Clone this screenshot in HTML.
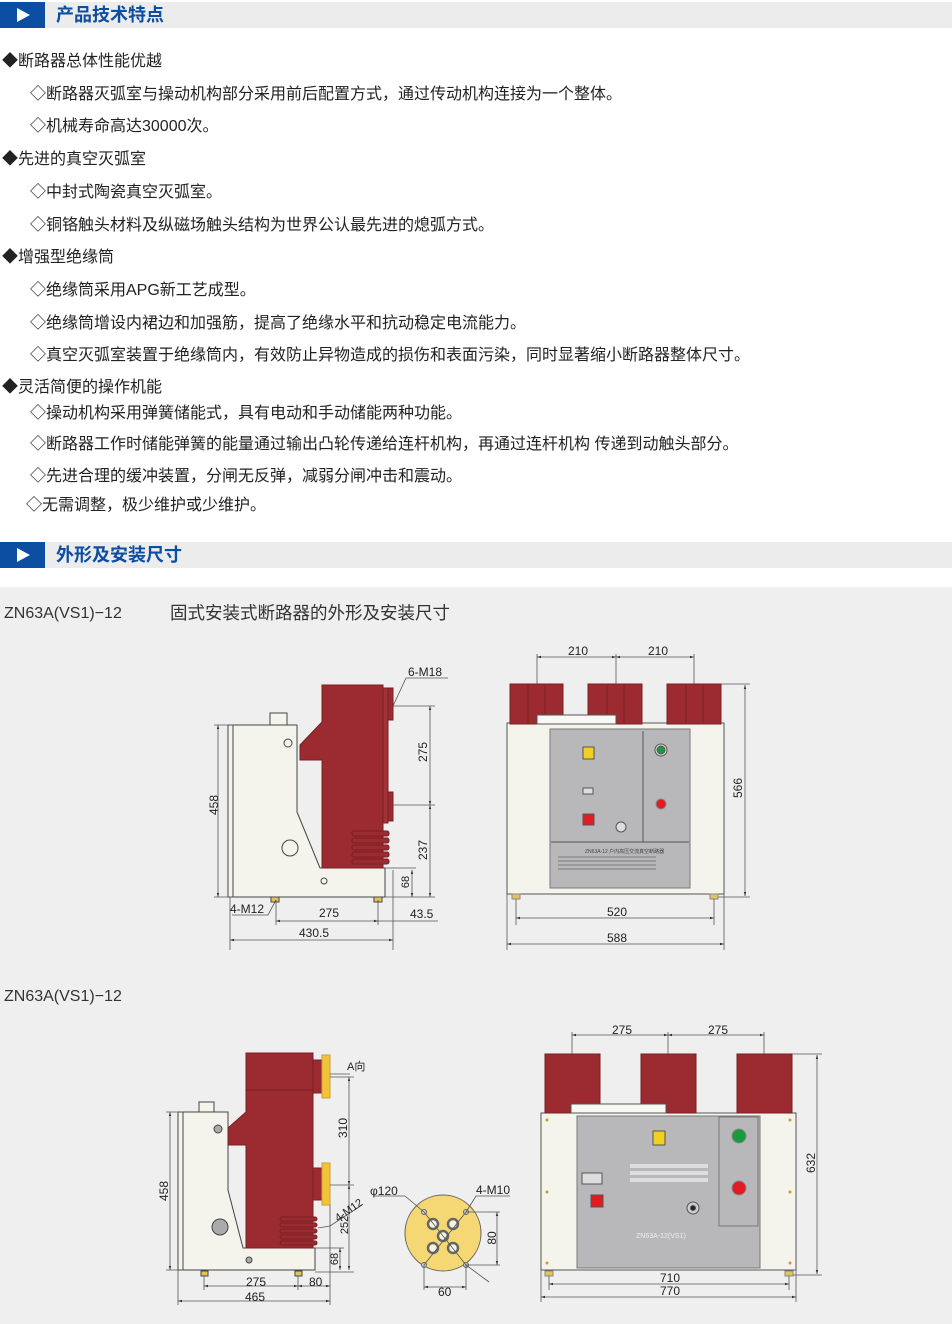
<!DOCTYPE html>
<html><head><meta charset="utf-8">
<style>
html,body{margin:0;padding:0}
body{width:952px;height:1324px;position:relative;background:#fff;font-family:"Liberation Sans","Noto Sans CJK SC",sans-serif;color:#222;overflow:hidden}
.t{position:absolute;font-size:16px;white-space:nowrap;line-height:20px}
.hd{position:absolute;left:0;width:952px;height:26px;background:#ececec}
.hd .b{position:absolute;left:0;top:0;width:45px;height:26px;background:#0c4ea2}
.hd .b:after{content:"";position:absolute;left:17px;top:6px;border-left:13px solid #fff;border-top:7px solid transparent;border-bottom:7px solid transparent}
.hd .tt{position:absolute;left:56px;top:2px;font-size:18px;color:#0c4ea2;font-weight:bold;line-height:22px}
#grey{position:absolute;left:0;top:587px;width:952px;height:737px;background:#efefef}
svg{position:absolute;left:0;top:0}
</style></head><body>
<div class="hd" style="top:2px"><div class="b"></div><div class="tt">产品技术特点</div></div>
<div class="t" style="left:2px;top:52px">◆断路器总体性能优越</div>
<div class="t" style="left:30px;top:85px">◇断路器灭弧室与操动机构部分采用前后配置方式，通过传动机构连接为一个整体。</div>
<div class="t" style="left:30px;top:117px">◇机械寿命高达30000次。</div>
<div class="t" style="left:2px;top:150px">◆先进的真空灭弧室</div>
<div class="t" style="left:30px;top:183px">◇中封式陶瓷真空灭弧室。</div>
<div class="t" style="left:30px;top:216px">◇铜铬触头材料及纵磁场触头结构为世界公认最先进的熄弧方式。</div>
<div class="t" style="left:2px;top:248px">◆增强型绝缘筒</div>
<div class="t" style="left:30px;top:281px">◇绝缘筒采用APG新工艺成型。</div>
<div class="t" style="left:30px;top:314px">◇绝缘筒增设内裙边和加强筋，提高了绝缘水平和抗动稳定电流能力。</div>
<div class="t" style="left:30px;top:346px">◇真空灭弧室装置于绝缘筒内，有效防止异物造成的损伤和表面污染，同时显著缩小断路器整体尺寸。</div>
<div class="t" style="left:2px;top:378px">◆灵活简便的操作机能</div>
<div class="t" style="left:30px;top:404px">◇操动机构采用弹簧储能式，具有电动和手动储能两种功能。</div>
<div class="t" style="left:30px;top:435px">◇断路器工作时储能弹簧的能量通过输出凸轮传递给连杆机构，再通过连杆机构 传递到动触头部分。</div>
<div class="t" style="left:30px;top:467px">◇先进合理的缓冲装置，分闸无反弹，减弱分闸冲击和震动。</div>
<div class="t" style="left:26px;top:496px">◇无需调整，极少维护或少维护。</div>
<div class="hd" style="top:542px"><div class="b"></div><div class="tt">外形及安装尺寸</div></div>
<div id="grey"></div>
<div class="t" style="left:4px;top:604px;font-size:16px;color:#333">ZN63A(VS1)−12</div>
<div class="t" style="left:170px;top:603px;font-size:17.5px;color:#333">固式安装式断路器的外形及安装尺寸</div>
<div class="t" style="left:4px;top:987px;font-size:16px;color:#333">ZN63A(VS1)−12</div>

<svg width="952" height="1324" viewBox="0 0 952 1324" font-family="Liberation Sans, sans-serif" font-size="13" fill="#222">
<defs><marker id="a" viewBox="0 0 10 10" refX="10" refY="5" markerWidth="8" markerHeight="5" orient="auto-start-reverse"><path d="M0,2 L10,5 L0,8z" fill="#333"/></marker></defs>
<g stroke="#444" stroke-width="1">
<rect x="228" y="725" width="5" height="172" fill="#f4f4ec"/>
<rect x="270" y="713" width="17" height="12" fill="#f4f4ec"/>
<path d="M233,725 L297,725 L297,812 L320,868 L385,868 L385,897 L233,897Z" fill="#f4f4ec"/>
<path d="M322,685 L383,685 L383,868 L322,868 L322,760 L300,760 L300,745 L322,722Z" fill="#9b2b30" stroke="#7a1f24"/>
<rect x="383" y="688" width="5" height="135" fill="#a33237" stroke="#7a1f24"/>
<rect x="388" y="688" width="5" height="32" fill="#9b2b30" stroke="#7a1f24"/>
<rect x="388" y="792" width="5" height="29" fill="#9b2b30" stroke="#7a1f24"/>
<g stroke="#7a1f24" fill="#9b2b30"><rect x="352" y="831" width="37" height="5" rx="2"/><rect x="352" y="838" width="37" height="5" rx="2"/><rect x="352" y="845" width="37" height="5" rx="2"/><rect x="352" y="852" width="37" height="5" rx="2"/><rect x="352" y="859" width="37" height="5" rx="2"/></g>
<circle cx="288" cy="743" r="4" fill="none"/><circle cx="290" cy="848" r="8" fill="none"/><circle cx="324" cy="881" r="3" fill="none"/>
<rect x="271" y="897" width="8" height="5" fill="#e3c35a"/><rect x="374" y="897" width="8" height="5" fill="#e3c35a"/>
</g>
<g stroke="#555" stroke-width="0.8" fill="none">
<line x1="218" y1="725" x2="218" y2="897" marker-start="url(#a)" marker-end="url(#a)"/>
<line x1="214" y1="725" x2="233" y2="725"/><line x1="214" y1="897" x2="233" y2="897"/>
<line x1="430" y1="706" x2="430" y2="805" marker-start="url(#a)" marker-end="url(#a)"/>
<line x1="430" y1="805" x2="430" y2="897" marker-start="url(#a)" marker-end="url(#a)"/>
<line x1="393" y1="706" x2="435" y2="706"/><line x1="393" y1="805" x2="435" y2="805"/><line x1="385" y1="897" x2="435" y2="897"/>
<line x1="412" y1="870" x2="412" y2="897" marker-start="url(#a)" marker-end="url(#a)"/><line x1="385" y1="868" x2="416" y2="868"/>
<path d="M393,706 L406,678 L448,678"/>
<path d="M276,900 L268,915 L232,915"/>
<line x1="276" y1="900" x2="276" y2="925"/><line x1="378" y1="900" x2="378" y2="925"/><line x1="393" y1="870" x2="393" y2="950"/><line x1="230" y1="897" x2="230" y2="950"/>
<line x1="276" y1="921" x2="378" y2="921" marker-start="url(#a)" marker-end="url(#a)"/>
<line x1="378" y1="921" x2="438" y2="921"/>
<line x1="230" y1="940" x2="393" y2="940" marker-start="url(#a)" marker-end="url(#a)"/>
</g>
<text x="408" y="676" font-size="12">6-M18</text>
<text x="230" y="913" font-size="12">4-M12</text>
<text x="319" y="917" font-size="12">275</text>
<text x="410" y="918" font-size="12">43.5</text>
<text x="299" y="937" font-size="12">430.5</text>
<text transform="translate(218,805) rotate(-90)" text-anchor="middle" font-size="12">458</text>
<text transform="translate(427,752) rotate(-90)" text-anchor="middle" font-size="12">275</text>
<text transform="translate(427,850) rotate(-90)" text-anchor="middle" font-size="12">237</text>
<text transform="translate(409,882) rotate(-90)" text-anchor="middle" font-size="11">68</text>

<g stroke="#555" stroke-width="1">
<rect x="507" y="723" width="217" height="171" fill="#f4f4ec"/>
<g fill="#9b2b30" stroke="#7a1f24"><rect x="510" y="684" width="53" height="40"/><rect x="588" y="684" width="54" height="40"/><rect x="667" y="684" width="54" height="40"/></g>
<g stroke="#7a1f24"><line x1="528" y1="685" x2="528" y2="723"/><line x1="545" y1="685" x2="545" y2="723"/><line x1="607" y1="685" x2="607" y2="723"/><line x1="624" y1="685" x2="624" y2="723"/><line x1="686" y1="685" x2="686" y2="723"/><line x1="703" y1="685" x2="703" y2="723"/></g>
<rect x="537" y="715" width="79" height="9" fill="#f8f8f4"/>
<rect x="550" y="729" width="140" height="159" fill="#b8b8ba" stroke="#777"/>
<line x1="643" y1="731" x2="643" y2="842"/><line x1="551" y1="842" x2="689" y2="842"/>
<rect x="583" y="747" width="11" height="12" fill="#f0d020"/>
<rect x="583" y="788" width="10" height="6" fill="#ddd"/>
<rect x="583" y="814" width="11" height="11" fill="#e21b22"/>
<circle cx="621" cy="827" r="5" fill="#ddd"/><circle cx="661" cy="750" r="6" fill="#ddd"/><circle cx="661" cy="750" r="4" fill="#1a9a3a"/>
<circle cx="661" cy="804" r="5" fill="#e21b22" stroke="#888"/>
<path d="M558,857 H656 M558,861 H656 M558,865 H656 M558,869 H656" stroke="#666" stroke-width="0.7"/>
</g>
<rect x="512" y="894" width="8" height="5" fill="#e3c35a" stroke="#888"/><rect x="710" y="894" width="8" height="5" fill="#e3c35a" stroke="#888"/>
<text x="585" y="853" font-size="5" fill="#444">ZN63A-12 户内高压交流真空断路器</text>
<g stroke="#555" stroke-width="0.8" fill="none">
<line x1="537" y1="657" x2="616" y2="657" marker-start="url(#a)" marker-end="url(#a)"/>
<line x1="616" y1="657" x2="694" y2="657" marker-start="url(#a)" marker-end="url(#a)"/>
<line x1="537" y1="654" x2="537" y2="684"/><line x1="616" y1="654" x2="616" y2="684"/><line x1="694" y1="654" x2="694" y2="684"/>
<line x1="745" y1="685" x2="745" y2="896" marker-start="url(#a)" marker-end="url(#a)"/>
<line x1="721" y1="684" x2="750" y2="684"/><line x1="718" y1="897" x2="750" y2="897"/>
<line x1="516" y1="899" x2="516" y2="925"/><line x1="714" y1="899" x2="714" y2="925"/>
<line x1="516" y1="918" x2="714" y2="918" marker-start="url(#a)" marker-end="url(#a)"/>
<line x1="507" y1="894" x2="507" y2="950"/><line x1="724" y1="894" x2="724" y2="950"/>
<line x1="507" y1="944" x2="724" y2="944" marker-start="url(#a)" marker-end="url(#a)"/>
</g>
<text x="568" y="655" font-size="12">210</text><text x="648" y="655" font-size="12">210</text>
<text x="607" y="916" font-size="12">520</text><text x="607" y="942" font-size="12">588</text>
<text transform="translate(742,788) rotate(-90)" text-anchor="middle" font-size="12">566</text>

<g stroke="#444" stroke-width="1">
<rect x="178" y="1112" width="5" height="158" fill="#f4f4ec"/>
<rect x="199" y="1102" width="15" height="10" fill="#f4f4ec"/>
<path d="M183,1112 L228,1112 L228,1190 L243,1248 L315,1248 L315,1270 L183,1270Z" fill="#f4f4ec"/>
<path d="M246,1053 L313,1053 L313,1248 L246,1248 L246,1145 L228,1145 L228,1128 L246,1112Z" fill="#9b2b30" stroke="#7a1f24"/>
<line x1="246" y1="1090" x2="313" y2="1090" stroke="#7a1f24"/>
<rect x="313" y="1060" width="9" height="33" fill="#9b2b30" stroke="#7a1f24"/>
<rect x="322" y="1055" width="8" height="43" fill="#f1c33a" stroke="#c9a030"/>
<rect x="313" y="1168" width="9" height="32" fill="#9b2b30" stroke="#7a1f24"/>
<rect x="322" y="1163" width="8" height="42" fill="#f1c33a" stroke="#c9a030"/>
<g stroke="#7a1f24" fill="#9b2b30"><rect x="280" y="1217" width="37" height="4" rx="2"/><rect x="280" y="1223" width="37" height="4" rx="2"/><rect x="280" y="1229" width="37" height="4" rx="2"/><rect x="280" y="1235" width="37" height="4" rx="2"/><rect x="280" y="1241" width="37" height="4" rx="2"/></g>
<circle cx="218" cy="1129" r="4" fill="#aaa"/><circle cx="220" cy="1227" r="8" fill="#aaa"/><circle cx="249" cy="1260" r="3" fill="#aaa"/>
<rect x="201" y="1271" width="7" height="5" fill="#e3c35a"/><rect x="295" y="1271" width="7" height="5" fill="#e3c35a"/>
</g>
<g stroke="#555" stroke-width="0.8" fill="none">
<line x1="170" y1="1112" x2="170" y2="1270" marker-start="url(#a)" marker-end="url(#a)"/>
<line x1="166" y1="1112" x2="183" y2="1112"/><line x1="166" y1="1270" x2="183" y2="1270"/>
<line x1="349" y1="1077" x2="349" y2="1185" marker-start="url(#a)" marker-end="url(#a)"/>
<line x1="349" y1="1185" x2="349" y2="1270" marker-start="url(#a)" marker-end="url(#a)"/>
<line x1="330" y1="1077" x2="354" y2="1077"/><line x1="330" y1="1185" x2="354" y2="1185"/><line x1="315" y1="1272" x2="354" y2="1272"/>
<line x1="340" y1="1248" x2="340" y2="1270" marker-start="url(#a)" marker-end="url(#a)"/><line x1="315" y1="1248" x2="344" y2="1248"/>
<path d="M330,1074 L350,1074"/>
<path d="M318,1228 L330,1226 L362,1205"/>
<line x1="204" y1="1276" x2="204" y2="1290"/><line x1="298" y1="1276" x2="298" y2="1290"/><line x1="178" y1="1270" x2="178" y2="1305"/><line x1="330" y1="1205" x2="330" y2="1305"/>
<line x1="204" y1="1286" x2="298" y2="1286" marker-start="url(#a)" marker-end="url(#a)"/>
<line x1="298" y1="1286" x2="330" y2="1286" marker-start="url(#a)" marker-end="url(#a)"/>
<line x1="178" y1="1301" x2="330" y2="1301" marker-start="url(#a)" marker-end="url(#a)"/>
</g>
<text x="347" y="1070" font-size="11">A向</text>
<text x="246" y="1286" font-size="12">275</text><text x="309" y="1286" font-size="12">80</text><text x="245" y="1301" font-size="12">465</text>
<text transform="translate(168,1191) rotate(-90)" text-anchor="middle" font-size="12">458</text>
<text transform="translate(347,1128) rotate(-90)" text-anchor="middle" font-size="12">310</text>
<text transform="translate(348,1225) rotate(-90)" text-anchor="middle" font-size="11">252</text>
<text transform="translate(338,1259) rotate(-90)" text-anchor="middle" font-size="11">68</text>
<text transform="translate(338,1222) rotate(-35)" font-size="11">4-M12</text>

<circle cx="443" cy="1233" r="38" fill="#f5d873" stroke="#666"/>
<g fill="#f7f3e0" stroke="#666" stroke-width="2.5">
<circle cx="433" cy="1224" r="5"/><circle cx="453" cy="1224" r="5"/><circle cx="443" cy="1236" r="5"/><circle cx="433" cy="1248" r="5"/><circle cx="453" cy="1248" r="5"/>
</g>
<g fill="#ccc" stroke="#666"><circle cx="424" cy="1212" r="2.5"/><circle cx="466" cy="1212" r="2.5"/><circle cx="424" cy="1265" r="2.5"/><circle cx="466" cy="1265" r="2.5"/></g>
<g stroke="#555" stroke-width="0.8" fill="none">
<path d="M374,1196 L405,1196 L424,1212"/><path d="M466,1212 L476,1196 L510,1196"/>
<line x1="424" y1="1212" x2="466" y2="1265"/><line x1="466" y1="1212" x2="424" y2="1265"/><line x1="466" y1="1265" x2="489" y2="1282"/>
<line x1="466" y1="1212" x2="500" y2="1212"/><line x1="466" y1="1265" x2="500" y2="1265"/>
<line x1="497" y1="1212" x2="497" y2="1265" marker-start="url(#a)" marker-end="url(#a)"/>
<line x1="424" y1="1265" x2="424" y2="1290"/><line x1="466" y1="1265" x2="466" y2="1290"/>
<line x1="424" y1="1287" x2="466" y2="1287" marker-start="url(#a)" marker-end="url(#a)"/>
</g>
<text x="370" y="1195" font-size="12">φ120</text><text x="476" y="1194" font-size="12">4-M10</text>
<text x="438" y="1296" font-size="12">60</text>
<text transform="translate(496,1238) rotate(-90)" text-anchor="middle" font-size="12">80</text>

<g stroke="#555" stroke-width="1">
<rect x="541" y="1113" width="255" height="157" fill="#f4f4ec"/>
<g fill="#9b2b30" stroke="#7a1f24"><rect x="545" y="1054" width="55" height="59"/><rect x="641" y="1054" width="55" height="59"/><rect x="737" y="1054" width="55" height="59"/></g>
<rect x="571" y="1104" width="95" height="9" fill="#f8f8f4"/>
<rect x="577" y="1116" width="183" height="152" fill="#b8b8ba" stroke="#777"/>
<rect x="719" y="1117" width="39" height="109" fill="#b8b8ba" stroke="#777"/>
<rect x="653" y="1131" width="12" height="14" fill="#f0d020"/>
<rect x="582" y="1173" width="20" height="11" fill="#ddd"/>
<rect x="591" y="1195" width="12" height="12" fill="#e21b22"/>
<circle cx="693" cy="1208" r="6" fill="#ccc"/><circle cx="693" cy="1208" r="2.5" fill="#222"/>
<circle cx="739" cy="1136" r="7" fill="#1a9a3a" stroke="#888"/><circle cx="739" cy="1188" r="7" fill="#e21b22" stroke="#888"/>
</g>
<g fill="#ddd"><rect x="630" y="1164" width="78" height="4"/><rect x="630" y="1171" width="78" height="4"/><rect x="630" y="1178" width="78" height="4"/></g>
<g fill="#c9a030"><circle cx="547" cy="1120" r="1.5"/><circle cx="790" cy="1120" r="1.5"/><circle cx="547" cy="1192" r="1.5"/><circle cx="790" cy="1192" r="1.5"/><circle cx="547" cy="1263" r="1.5"/><circle cx="790" cy="1263" r="1.5"/></g>
<rect x="545" y="1271" width="8" height="5" fill="#e3c35a" stroke="#888"/><rect x="785" y="1271" width="8" height="5" fill="#e3c35a" stroke="#888"/>
<text x="636" y="1238" font-size="7" fill="#eee">ZN63A-12(VS1)</text>
<g stroke="#555" stroke-width="0.8" fill="none">
<line x1="572" y1="1035" x2="668" y2="1035" marker-start="url(#a)" marker-end="url(#a)"/>
<line x1="668" y1="1035" x2="764" y2="1035" marker-start="url(#a)" marker-end="url(#a)"/>
<line x1="572" y1="1032" x2="572" y2="1054"/><line x1="668" y1="1032" x2="668" y2="1054"/><line x1="764" y1="1032" x2="764" y2="1054"/>
<line x1="817" y1="1055" x2="817" y2="1274" marker-start="url(#a)" marker-end="url(#a)"/>
<line x1="792" y1="1054" x2="822" y2="1054"/><line x1="793" y1="1275" x2="822" y2="1275"/>
<line x1="549" y1="1276" x2="549" y2="1290"/><line x1="789" y1="1276" x2="789" y2="1290"/>
<line x1="549" y1="1284" x2="789" y2="1284" marker-start="url(#a)" marker-end="url(#a)"/>
<line x1="541" y1="1270" x2="541" y2="1302"/><line x1="796" y1="1270" x2="796" y2="1302"/>
<line x1="541" y1="1297" x2="796" y2="1297" marker-start="url(#a)" marker-end="url(#a)"/>
</g>
<text x="612" y="1034" font-size="12">275</text><text x="708" y="1034" font-size="12">275</text>
<text x="660" y="1282" font-size="12">710</text><text x="660" y="1295" font-size="12">770</text>
<text transform="translate(815,1163) rotate(-90)" text-anchor="middle" font-size="12">632</text>
</svg>
</body></html>
